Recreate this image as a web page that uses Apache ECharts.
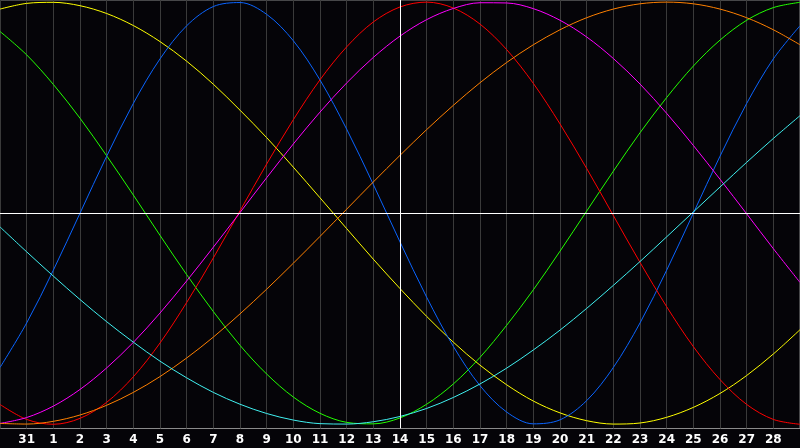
<!DOCTYPE html>
<html>
<head>
<meta charset="utf-8">
<script src="https://cdn.jsdelivr.net/npm/echarts@6/dist/echarts.min.js"></script>
<style>
  html, body { margin: 0; padding: 0; background: #050408; }
  #chart { width: 800px; height: 448px; }
</style>
</head>
<body>
<div id="chart"></div>
<script>
// day labels along the bottom (first and last are off the visible labels)
var days = ['30', '31', '1', '2', '3', '4', '5', '6', '7', '8', '9', '10', '11', '12', '13',
            '14', '15', '16', '17', '18', '19', '20', '21', '22', '23', '24', '25', '26', '27', '28', '1'];
var today = '14';

// curve values, one per day
var yellow = [0.967, 0.994, 0.999, 0.983, 0.946, 0.889, 0.813, 0.720, 0.611, 0.488, 0.358, 0.218, 0.073,
              -0.073, -0.218, -0.357, -0.489, -0.611, -0.720, -0.813, -0.890, -0.946, -0.983, -0.999, -0.994,
              -0.967, -0.920, -0.854, -0.769, -0.667, -0.552];
var green = [0.861, 0.750, 0.610, 0.450, 0.272, 0.086, -0.105, -0.291, -0.466, -0.626, -0.762, -0.871, -0.948,
             -0.991, -0.998, -0.970, -0.905, -0.809, -0.683, -0.531, -0.363, -0.180, 0.010, 0.199, 0.381,
             0.548, 0.697, 0.820, 0.914, 0.974, 0.999];
var blue = [-0.731, -0.520, -0.270, 0.000, 0.270, 0.520, 0.731, 0.888, 0.979, 0.998, 0.942, 0.817, 0.631,
            0.398, 0.136, -0.136, -0.398, -0.631, -0.817, -0.942, -0.998, -0.979, -0.888, -0.731, -0.520,
            -0.270, 0.000, 0.270, 0.520, 0.731, 0.888];
var red = [-0.906, -0.977, -1.000, -0.972, -0.896, -0.775, -0.615, -0.423, -0.212, 0.011, 0.233, 0.443, 0.632,
           0.788, 0.906, 0.977, 1.000, 0.972, 0.896, 0.775, 0.615, 0.423, 0.212, -0.011, -0.233,
           -0.443, -0.632, -0.788, -0.906, -0.977, -1.000];
var magenta = [-0.996, -0.968, -0.914, -0.835, -0.733, -0.612, -0.473, -0.321, -0.161, 0.003, 0.168, 0.328, 0.479,
               0.617, 0.738, 0.839, 0.917, 0.970, 0.997, 0.996, 0.969, 0.914, 0.835, 0.733, 0.612,
               0.473, 0.321, 0.161, -0.003, -0.168, -0.328];
var orange = [-0.996, -0.999, -0.986, -0.956, -0.910, -0.849, -0.774, -0.686, -0.587, -0.477, -0.360, -0.237, -0.110,
              0.019, 0.148, 0.274, 0.396, 0.511, 0.618, 0.714, 0.798, 0.869, 0.926, 0.967, 0.992,
              1.000, 0.992, 0.967, 0.926, 0.869, 0.798];
var cyan = [-0.065, -0.183, -0.298, -0.409, -0.514, -0.611, -0.701, -0.780, -0.849, -0.905, -0.949, -0.980, -0.997,
            -0.999, -0.988, -0.963, -0.925, -0.873, -0.809, -0.734, -0.648, -0.554, -0.451, -0.342, -0.229,
            -0.112, 0.006, 0.124, 0.241, 0.354, 0.462];

var curves = [
  { name: 'yellow', data: yellow, color: '#ffff00' },
  { name: 'green', data: green, color: '#22ff00' },
  { name: 'blue', data: blue, color: '#0a64ff' },
  { name: 'red', data: red, color: '#ff0000' },
  { name: 'magenta', data: magenta, color: '#ff00ff' },
  { name: 'orange', data: orange, color: '#ff8000' },
  { name: 'cyan', data: cyan, color: '#40f0f0' }
];

var myChart = echarts.init(document.getElementById('chart'));

var series = curves.map(function (c) {
  return {
    name: c.name,
    type: 'line',
    data: c.data,
    smooth: 0.33,
    symbol: 'none',
    silent: true,
    lineStyle: { color: c.color, width: 1 }
  };
});

// white cross: zero line and today
series.unshift({
  type: 'line',
  data: [],
  silent: true,
  markLine: {
    silent: true,
    symbol: 'none',
    label: { show: false },
    lineStyle: { color: '#ffffff', width: 1, type: 'solid' },
    data: [{ yAxis: 0 }, { xAxis: today }]
  }
});

option = {
  backgroundColor: '#050408',
  animation: false,
  grid: {
    left: 0, right: 0, top: 0, bottom: 19.5,
    show: true,
    borderColor: '#8a8a8a',
    borderWidth: 1
  },
  xAxis: {
    type: 'category',
    data: days,
    boundaryGap: false,
    axisLine: { lineStyle: { color: '#a0a0a0', width: 1 } },
    axisTick: { show: false },
    axisLabel: {
      color: '#ffffff',
      fontWeight: 'bold',
      fontSize: 12,
      fontFamily: 'DejaVu Sans',
      margin: 5,
      interval: function (index) { return index > 0 && index < days.length - 1; }
    },
    splitLine: {
      show: true,
      interval: 0,
      lineStyle: { color: '#3a3a3a', width: 1 }
    }
  },
  yAxis: {
    type: 'value',
    min: -1.02,
    max: 1.01,
    show: false,
    splitLine: { show: false }
  },
  series: series
};

myChart.setOption(option);
</script>
</body>
</html>
